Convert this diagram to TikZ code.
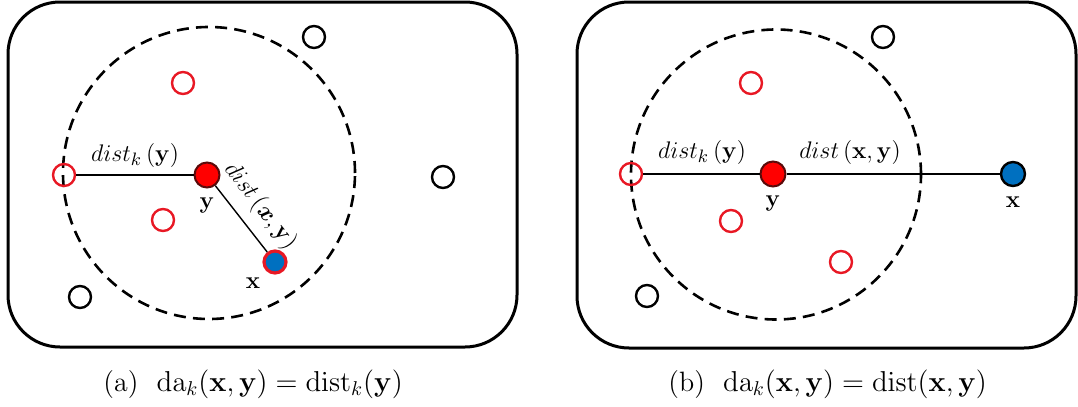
\documentclass[tikz,border=0pt]{standalone}
\usepackage{amsmath,bm}
\definecolor{ptred}{RGB}{232,24,36}
\definecolor{ptblue}{RGB}{0,112,192}
\definecolor{ydark}{RGB}{90,10,10}
\tikzset{
  panel/.style={draw=black,line width=1.5pt,rounded corners=26pt},
  hood/.style={draw=black,line width=1.3pt,dash pattern=on 6pt off 3.6pt},
  conn/.style={draw=black,line width=0.7pt},
  redpt/.style={circle,draw=ptred,line width=1.2pt,inner sep=0pt,minimum size=11pt},
  blkpt/.style={circle,draw=black,line width=1.2pt,inner sep=0pt,minimum size=11pt},
  ypt/.style={circle,draw=ydark,fill=red,line width=1pt,inner sep=0pt,minimum size=12.5pt},
  xpta/.style={circle,draw=ptred,fill=ptblue,line width=1.6pt,inner sep=0pt,minimum size=11pt},
  xptb/.style={circle,draw=black,fill=ptblue,line width=1.2pt,inner sep=0pt,minimum size=12pt},
  lbl/.style={inner sep=0pt,font=\fontsize{12.5}{14}\selectfont},
  captxt/.style={inner sep=0pt,anchor=base west,font=\fontsize{14}{16}\selectfont},
}
\begin{document}
\begin{tikzpicture}[x=0.5pt,y=-0.5pt]
\useasboundingbox (0,0) rectangle (1078,407);
% ---------- panel (a) ----------
\draw[panel] (8,2) rectangle (517,347);
\draw[hood] (209,173) circle[radius=73pt];
\node[redpt] (ak) at (64,175) {};
\node[ypt] (ay) at (207,175) {};
\node[xpta] (ax) at (275,262) {};
\node[redpt] (ar1) at (183,83) {};
\node[redpt] (ar2) at (163,220) {};
\node[blkpt] (ab1) at (314,37) {};
\node[blkpt] (ab2) at (443,177) {};
\node[blkpt] (ab3) at (80,297) {};
\draw[conn] (ak) -- (ay);
\draw[conn] (ay) -- node[lbl,sloped,above=5pt,pos=0.52] (adxy) {$dist\,(\bm{x},\mathbf{y})$} (ax);
\node[lbl] (adk) at (135,155) {$dist_k\,(\mathbf{y})$};
\node[lbl] (aylab) at (207,205) {$\mathbf{y}$};
\node[lbl] (axlab) at (253,283) {$\mathbf{x}$};
\node[captxt] (capa) at (103,391) {(a)\hspace{0.65em}$\mathrm{da}_k(\mathbf{x},\mathbf{y})=\mathrm{dist}_k(\mathbf{y})$};
% ---------- panel (b) ----------
\draw[panel] (577,2) rectangle (1076,348);
\draw[hood] (776,174.5) circle[radius=72.5pt];
\node[redpt] (bk) at (631,174) {};
\node[ypt] (by) at (773,174) {};
\node[xptb] (bx) at (1013,174) {};
\node[redpt] (br1) at (751,83) {};
\node[redpt] (br2) at (731,221) {};
\node[redpt] (br3) at (841,262) {};
\node[blkpt] (bb1) at (883,37) {};
\node[blkpt] (bb2) at (647,296) {};
\draw[conn] (bk) -- (by);
\draw[conn] (by) -- (bx);
\node[lbl] (bdk) at (702,152) {$dist_k\,(\mathbf{y})$};
\node[lbl] (bdxy) at (850,152) {$dist\,(\mathbf{x},\mathbf{y})$};
\node[lbl] (bylab) at (773,203) {$\mathbf{y}$};
\node[lbl] (bxlab) at (1013,202) {$\mathbf{x}$};
\node[captxt] (capb) at (668,391) {(b)\hspace{0.65em}$\mathrm{da}_k(\mathbf{x},\mathbf{y})=\mathrm{dist}(\mathbf{x},\mathbf{y})$};
\end{tikzpicture}
\end{document}
